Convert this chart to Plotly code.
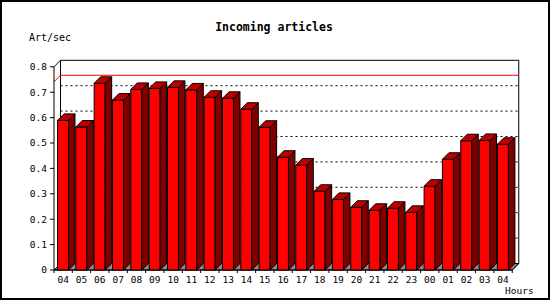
import plotly.graph_objects as go

# ---------------- data ----------------
hours = ["04", "05", "06", "07", "08", "09", "10", "11", "12", "13", "14", "15",
         "16", "17", "18", "19", "20", "21", "22", "23", "00", "01", "02", "03", "04"]
rates = [0.589, 0.563, 0.735, 0.669, 0.711, 0.715, 0.719, 0.709, 0.680, 0.676,
         0.633, 0.562, 0.444, 0.413, 0.310, 0.278, 0.247, 0.235, 0.243, 0.227,
         0.330, 0.436, 0.509, 0.510, 0.495]
ref_level = 0.741
y_tickvals = [0, 0.1, 0.2, 0.3, 0.4, 0.5, 0.6, 0.7, 0.8]
y_ticktext = ["0", "0.1", "0.2", "0.3", "0.4", "0.5", "0.6", "0.7", "0.8"]
grid_levels = [0.1, 0.2, 0.3, 0.4, 0.5, 0.6, 0.7]

# ---------------- geometry ----------------
W, H = 550, 300
PX = 18.33      # pixels per category
PY = 254.0      # pixels per value unit
AX_X = 54       # pixel of front y axis
AX_Y = 270      # pixel of y = 0
DEPTH = 6.5     # 3D offset in pixels
L, R, T, B = 48, 530, 52, 274

def x_of_px(px):
    return -0.5 + (px - AX_X) / PX

def y_of_px(py):
    return (AX_Y - py) / PY

def xp(px):
    return (px - L) / (R - L)

def yp(py):
    return (B - py) / (B - T)

DX = DEPTH / PX
DY = DEPTH / PY
n = len(hours)
x0, x1 = -0.5, n - 0.5
ymax = y_tickvals[-1]
BAR_OFF = -0.5 + 3.5 / PX
BW = 11 / PX

fig = go.Figure()

# front faces
fig.add_trace(go.Bar(
    x=list(range(n)), y=rates, width=BW, offset=BAR_OFF,
    marker=dict(color="#ff0000", line=dict(color="black", width=1)),
    hoverinfo="skip", showlegend=False))

# side and top faces
sx, sy, tx, ty = [], [], [], []
for i, v in enumerate(rates):
    xl = i + BAR_OFF
    xr = xl + BW
    sx += [xr, xr + DX, xr + DX, xr, xr, None]
    sy += [0, DY, v + DY, v, 0, None]
    tx += [xl, xl + DX, xr + DX, xr, xl, None]
    ty += [v, v + DY, v + DY, v, v, None]
fig.add_trace(go.Scatter(x=sx, y=sy, mode="lines", fill="toself", fillcolor="#800000",
                         line=dict(color="black", width=1), hoverinfo="skip", showlegend=False))
fig.add_trace(go.Scatter(x=tx, y=ty, mode="lines", fill="toself", fillcolor="#c00000",
                         line=dict(color="black", width=1), hoverinfo="skip", showlegend=False))

shapes = []
def seg(xa, ya, xb, yb, color="black", dash=None, width=1):
    d = dict(type="line", xref="x", yref="y", x0=xa, y0=ya, x1=xb, y1=yb,
             layer="below", line=dict(color=color, width=width))
    if dash:
        d["line"]["dash"] = dash
    shapes.append(d)

# floor
shapes.append(dict(type="path", xref="x", yref="y", layer="below",
                   path=f"M{x0},0 L{x1},0 L{x1+DX},{DY} L{x0+DX},{DY} Z",
                   fillcolor="#8c8c8c", line=dict(color="black", width=1)))
# grid lines on back wall
for g in grid_levels:
    seg(x0 + DX, g + DY, x1 + DX, g + DY, dash="2px,3px")
# back frame
seg(x0 + DX, DY, x0 + DX, ymax + DY)
seg(x0 + DX, ymax + DY, x1 + DX, ymax + DY)
seg(x1 + DX, DY, x1 + DX, ymax + DY)
# reference line
seg(x0, ref_level, x0 + DX, ref_level + DY, color="red")
seg(x0 + DX, ref_level + DY, x1 + DX, ref_level + DY, color="red")
# front axes
seg(x0, 0, x0, ymax)
seg(x0, ymax, x0 + DX, ymax + DY)
seg(x0, 0, x1, 0)
seg(x1, 0, x1 + DX, DY)
# tick marks
for v in y_tickvals:
    seg(x0 - 4 / PX, v, x0, v)
for i in range(n + 1):
    seg(i - 0.5, 0, i - 0.5, -3 / PY)

# outer frame
shapes.append(dict(type="rect", xref="paper", yref="paper",
                   x0=xp(1), y0=yp(1), x1=xp(549), y1=yp(299),
                   line=dict(color="black", width=2), fillcolor="rgba(0,0,0,0)"))

mono = "DejaVu Sans Mono"
fig.update_layout(
    width=W, height=H, autosize=False,
    margin=dict(l=L, r=W - R, t=T, b=H - B, pad=0),
    paper_bgcolor="white", plot_bgcolor="white",
    showlegend=False, shapes=shapes,
    title=dict(text="<b>Incoming articles</b>", xref="container", yref="container",
               x=274 / W, y=1 - 27 / H, xanchor="center", yanchor="middle",
               font=dict(family=mono, size=11.5, color="black")),
    xaxis=dict(range=[x_of_px(L), x_of_px(R)], tickmode="array",
               tickvals=list(range(n)), ticktext=hours, ticks="",
               ticklabelstandoff=-2,
               showgrid=False, zeroline=False, showline=False,
               tickfont=dict(family=mono, size=9.5, color="black")),
    yaxis=dict(range=[y_of_px(B), y_of_px(T)], tickmode="array",
               tickvals=y_tickvals, ticktext=y_ticktext, ticks="",
               showgrid=False, zeroline=False, showline=False,
               tickfont=dict(family=mono, size=9.5, color="black")),
    annotations=[
        dict(text="Art/sec", xref="paper", yref="paper", x=xp(50), y=yp(37),
             xanchor="center", yanchor="middle", showarrow=False,
             font=dict(family=mono, size=10, color="black")),
        dict(text="Hours", xref="paper", yref="paper", x=xp(519), y=yp(290),
             xanchor="center", yanchor="middle", showarrow=False,
             font=dict(family=mono, size=9.5, color="black")),
    ],
)

fig.write_html("out.html")
